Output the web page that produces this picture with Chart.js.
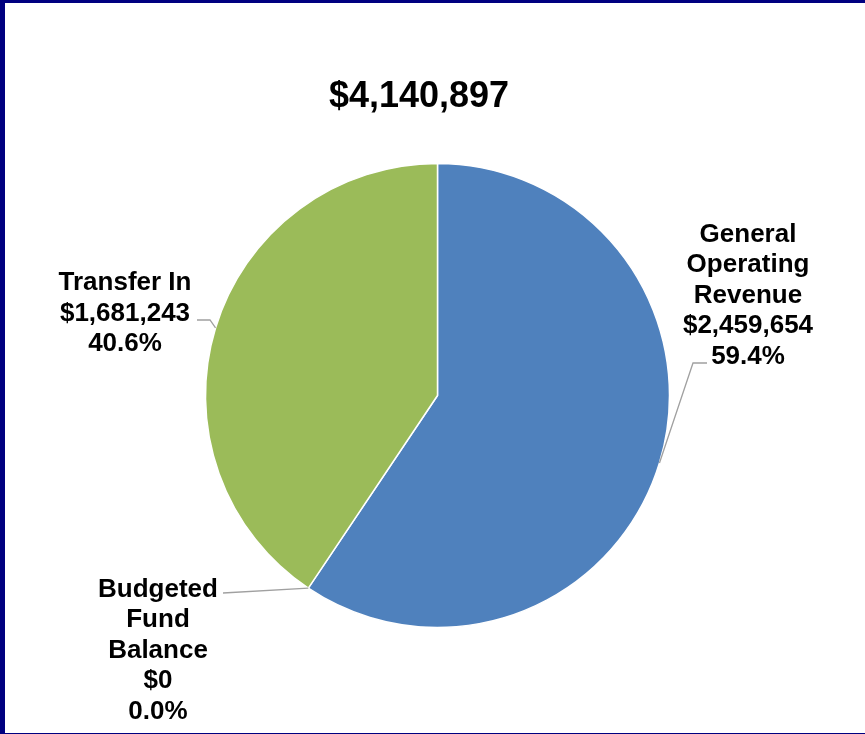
<!DOCTYPE html>
<html>
<head>
<meta charset="utf-8">
<script src="https://cdn.jsdelivr.net/npm/chart.js@4/dist/chart.umd.min.js"></script>
<style>
  html, body { margin: 0; padding: 0; background: #fff; }
  #frame {
    position: absolute; left: 0; top: 0; width: 865px; height: 734px;
    box-sizing: border-box;
    border-left: 5px solid #000080;
    border-top: 3px solid #000080;
    border-bottom: 1px solid #000080;
  }
  #pie { position: absolute; left: 0; top: 0; }
</style>
</head>
<body>
<div id="frame"></div>
<canvas id="pie" width="865" height="734"></canvas>
<script>
// data
const categories = [
  ['General', 'Operating', 'Revenue'],
  ['Budgeted', 'Fund', 'Balance'],
  ['Transfer In']
];
const values = [2459654, 0, 1681243];
const colors = ['#4F81BD', '#4F81BD', '#9BBB59'];

// where the text blocks sit, offsets from pie centre (px)
const labelPos = [
  { cx: 310.5, cy: -100, elbow: [255.5, -32.5], end: [269.5, -32.5] },
  { cx: -279.5, cy: 255, elbow: null, end: [-214.5, 197.5] },
  { cx: -312.5, cy: -82, elbow: [-227.5, -75.5], end: [-240.5, -75.5] }
];

const total = values.reduce((a, b) => a + b, 0);
const money = v => '$' + v.toLocaleString('en-US');

const labelPlugin = {
  id: 'pieLabels',
  afterDraw(chart) {
    const ctx = chart.ctx;
    const meta = chart.getDatasetMeta(0);
    ctx.save();
    // title
    ctx.fillStyle = '#000';
    ctx.font = 'bold 36px "Liberation Sans", Arial, sans-serif';
    ctx.textAlign = 'center';
    ctx.textBaseline = 'middle';
    ctx.fillText(money(total), 419, 97);

    meta.data.forEach((arc, i) => {
      const p = arc.getProps(['x', 'y', 'startAngle', 'endAngle', 'outerRadius'], true);
      const mid = (p.startAngle + p.endAngle) / 2;
      const ax = p.x + Math.cos(mid) * p.outerRadius;
      const ay = p.y + Math.sin(mid) * p.outerRadius;
      const lp = labelPos[i];

      ctx.strokeStyle = '#A0A0A0';
      ctx.lineWidth = 1.3;
      ctx.beginPath();
      ctx.moveTo(ax, ay);
      if (lp.elbow) ctx.lineTo(p.x + lp.elbow[0], p.y + lp.elbow[1]);
      ctx.lineTo(p.x + lp.end[0], p.y + lp.end[1]);
      ctx.stroke();

      const lines = categories[i].concat([money(values[i]), (values[i] / total * 100).toFixed(1) + '%']);
      const lh = 30.5;
      const top = p.y + lp.cy - (lines.length - 1) * lh / 2;
      ctx.fillStyle = '#000';
      ctx.font = 'bold 26px "Liberation Sans", Arial, sans-serif';
      lines.forEach((t, k) => ctx.fillText(t, p.x + lp.cx, top + k * lh));
    });
    ctx.restore();
  }
};

new Chart(document.getElementById('pie'), {
  type: 'pie',
  data: {
    labels: categories.map(c => c.join(' ')),
    datasets: [{
      data: values,
      backgroundColor: colors,
      borderColor: '#FFFFFF',
      borderWidth: 1.5
    }]
  },
  options: {
    responsive: false,
    animation: false,
    layout: { padding: { left: 204.75, right: 194.75, top: 162.75, bottom: 105.75 } },
    plugins: {
      legend: { display: false },
      tooltip: { enabled: false },
      title: { display: false }
    }
  },
  plugins: [labelPlugin]
});
</script>
</body>
</html>
